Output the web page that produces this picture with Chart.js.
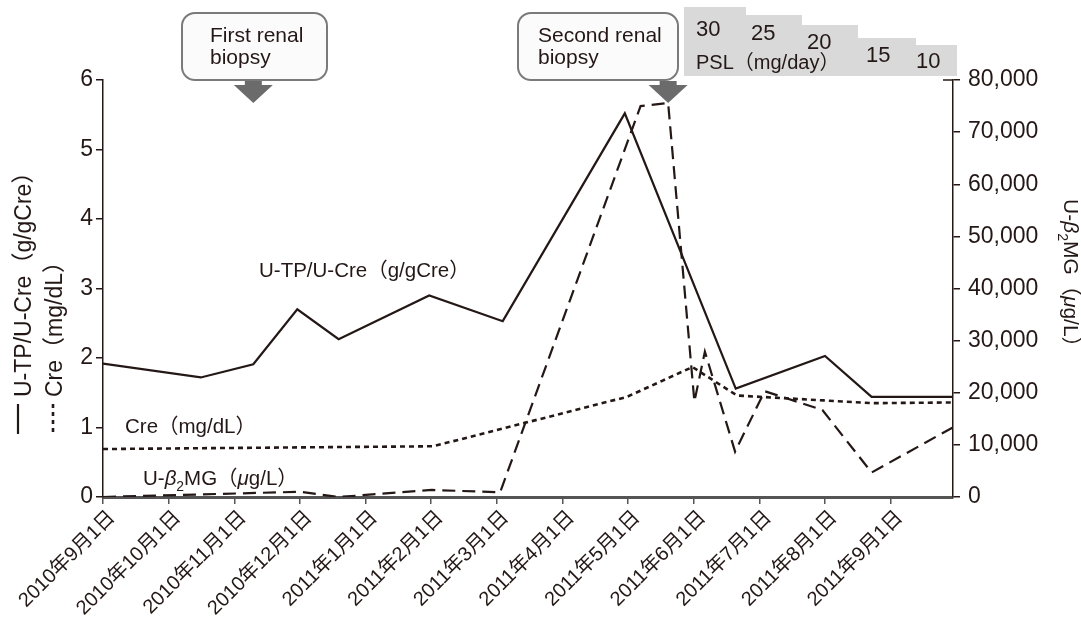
<!DOCTYPE html>
<html><head><meta charset="utf-8">
<script src="https://cdn.jsdelivr.net/npm/chart.js@4.4.1/dist/chart.umd.min.js"></script>
<style>html,body{margin:0;padding:0;background:#fff;} #wrap{width:1081px;height:625px;position:relative;}</style>
</head><body><div id="wrap"><canvas id="c"></canvas></div>
<script>
// x positions are months since 2010-09-01
const tickLabels = ['2010年9月1日','2010年10月1日','2010年11月1日','2010年12月1日','2011年1月1日','2011年2月1日','2011年3月1日','2011年4月1日','2011年5月1日','2011年6月1日','2011年7月1日','2011年8月1日','2011年9月1日'];
const utpMonths = [0, 1.49, 2.29, 2.96, 3.59, 4.97, 6.09, 7.95, 9.64, 11.0, 11.71, 12.94];
const utpValues = [1.92, 1.72, 1.91, 2.70, 2.27, 2.90, 2.53, 5.52, 1.56, 2.03, 1.44, 1.44];
const creMonths = [0, 5.03, 7.98, 8.98, 9.66, 10.98, 11.71, 12.94];
const creValues = [0.69, 0.73, 1.44, 1.87, 1.46, 1.39, 1.35, 1.36];
const b2mgMonths = [0, 3.0, 3.59, 5.01, 6.05, 8.19, 8.61, 9.01, 9.17, 9.63, 10.08, 10.96, 11.71, 12.94];
const b2mgValues = [0, 1000, 0, 1350, 900, 75000, 75600, 18300, 27900, 8700, 20300, 16700, 4700, 13300];
const pslDoses = [30, 25, 20, 15, 10];
const pslStartMonths = [8.85, 9.80, 10.65, 11.50, 12.38];
const pslEndMonth = 13.01;
const biopsyMonths = [2.29, 8.61];
const biopsyLabels = [['First renal', 'biopsy'], ['Second renal', 'biopsy']];

const FONT = '"Liberation Sans","Noto Sans CJK JP",sans-serif';
const INK = '#231815';
const zip = (xs, ys) => xs.map((x, i) => ({x: x, y: ys[i]}));
const fmt = v => String(v).replace(/\B(?=(\d{3})+(?!\d))/g, ',');

function rich(ctx, parts, x, y, size) {
  let cx = x;
  for (const p of parts) {
    const s = p.sub ? size * 0.68 : size;
    ctx.font = (p.it ? 'italic ' : '') + s + 'px ' + FONT;
    ctx.fillText(p.t, cx, y + (p.sub ? size * 0.28 : 0));
    cx += ctx.measureText(p.t).width;
  }
}
const b2Parts = [{t:'U-'},{t:'β',it:true},{t:'2',sub:true},{t:'MG（'},{t:'μ',it:true},{t:'g/L）'}];

const annot = {
  id: 'annot',
  afterDraw(chart) {
    const ctx = chart.ctx, xs = chart.scales.x, area = chart.chartArea;
    ctx.save();
    // PSL staircase
    const tops = [7, 15, 25, 38, 45], bottom = 76;
    ctx.fillStyle = '#d9d9d9';
    for (let i = 0; i < pslDoses.length; i++) {
      const x0 = Math.round(xs.getPixelForValue(pslStartMonths[i]));
      const x1 = Math.round(xs.getPixelForValue(i < pslDoses.length - 1 ? pslStartMonths[i + 1] : pslEndMonth));
      ctx.fillRect(x0, tops[i], x1 - x0, bottom - tops[i]);
    }
    ctx.fillStyle = INK;
    ctx.textBaseline = 'alphabetic';
    ctx.textAlign = 'left';
    ctx.font = '22px ' + FONT;
    const pslPos = [[696, 36], [751, 40], [807, 49], [866, 62], [916, 68]];
    pslDoses.forEach((d, i) => ctx.fillText(String(d), pslPos[i][0], pslPos[i][1]));
    ctx.font = '20px ' + FONT;
    ctx.fillText('PSL（mg/day）', 696, 69);

    // top inward tick on right axis
    ctx.strokeStyle = INK;
    ctx.lineWidth = 1.5;
    ctx.beginPath(); ctx.moveTo(area.right - 10, area.top); ctx.lineTo(area.right, area.top); ctx.stroke();

    // biopsy boxes + arrows
    const boxes = [[182, 13, 145, 67], [518, 13, 160, 67]];
    const textX = [210, 538];
    biopsyMonths.forEach((m, i) => {
      const [bx, by, bw, bh] = boxes[i];
      ctx.beginPath();
      ctx.roundRect(bx, by, bw, bh, 13);
      ctx.fillStyle = '#fbfbfb';
      ctx.fill();
      ctx.lineWidth = 2;
      ctx.strokeStyle = '#7a7a7a';
      ctx.stroke();
      ctx.fillStyle = INK;
      ctx.font = '21px ' + FONT;
      ctx.fillText(biopsyLabels[i][0], textX[i], 42);
      ctx.fillText(biopsyLabels[i][1], textX[i], 64);
      const ax = xs.getPixelForValue(m);
      ctx.fillStyle = '#6b6b6b';
      ctx.fillRect(ax - 8.5, 81, 17, 5);
      ctx.beginPath();
      ctx.moveTo(ax - 19.5, 85);
      ctx.lineTo(ax + 19.5, 85);
      ctx.lineTo(ax, 103);
      ctx.closePath();
      ctx.fill();
    });

    // inline series labels
    ctx.fillStyle = INK;
    ctx.font = '20.5px ' + FONT;
    ctx.fillText('U-TP/U-Cre（g/gCre）', 259, 277);
    ctx.fillText('Cre（mg/dL）', 125, 433);
    rich(ctx, b2Parts, 143, 485, 20.5);

    // left axis titles with legend marks
    ctx.save();
    ctx.translate(31, 397);
    ctx.rotate(-Math.PI / 2);
    ctx.font = '23px ' + FONT;
    ctx.fillText('U-TP/U-Cre（g/gCre）', 0, 0);
    ctx.restore();
    ctx.save();
    ctx.translate(62, 397);
    ctx.rotate(-Math.PI / 2);
    ctx.font = '23px ' + FONT;
    ctx.fillText('Cre（mg/dL）', 0, 0);
    ctx.restore();
    ctx.strokeStyle = INK;
    ctx.lineWidth = 2.2;
    ctx.beginPath(); ctx.moveTo(18, 404); ctx.lineTo(18, 434); ctx.stroke();
    ctx.lineWidth = 2.6;
    ctx.setLineDash([4, 4]);
    ctx.beginPath(); ctx.moveTo(53, 404); ctx.lineTo(53, 434); ctx.stroke();
    ctx.setLineDash([]);

    // right axis title
    ctx.save();
    ctx.translate(1064, 199);
    ctx.rotate(Math.PI / 2);
    rich(ctx, b2Parts, 0, 0, 21);
    ctx.restore();

    ctx.restore();
  }
};

new Chart(document.getElementById('c'), {
  type: 'line',
  data: {
    datasets: [
      {label: 'U-TP/U-Cre', data: zip(utpMonths, utpValues), yAxisID: 'y', borderColor: INK, borderWidth: 2.2, pointRadius: 0, tension: 0},
      {label: 'Cre', data: zip(creMonths, creValues), yAxisID: 'y', borderColor: INK, borderWidth: 2.6, borderDash: [5, 4], pointRadius: 0, tension: 0},
      {label: 'U-β2MG', data: zip(b2mgMonths, b2mgValues), yAxisID: 'y2', borderColor: INK, borderWidth: 2.2, borderDash: [13, 7], pointRadius: 0, tension: 0}
    ]
  },
  options: {
    responsive: true, maintainAspectRatio: false, animation: false,
    layout: {padding: {top: 80, left: 0, right: 0, bottom: 0}},
    plugins: {legend: {display: false}, tooltip: {enabled: false}},
    scales: {
      x: {
        type: 'linear', min: 0, max: 12.95,
        afterBuildTicks(s) { s.ticks = tickLabels.map((_, i) => ({value: i})); },
        afterFit(s) { s.height = 128; },
        grid: {drawOnChartArea: false, drawTicks: true, tickLength: 7, color: '#555', lineWidth: 1.5},
        border: {display: true, color: '#555', width: 3},
        ticks: {autoSkip: false, maxRotation: 45, minRotation: 45, font: {family: FONT, size: 20}, color: INK, labelOffset: 9, padding: 2,
          callback: v => tickLabels[v] !== undefined ? tickLabels[v] : ''}
      },
      y: {
        position: 'left', min: 0, max: 6,
        afterFit(s) { s.width = 103; },
        ticks: {stepSize: 1, font: {family: FONT, size: 23}, color: INK, padding: 3},
        grid: {drawOnChartArea: false, tickLength: 7, color: INK, lineWidth: 1.5},
        border: {color: INK, width: 1.5}
      },
      y2: {
        position: 'right', min: 0, max: 80000,
        afterFit(s) { s.width = 128; },
        ticks: {stepSize: 10000, font: {family: FONT, size: 23}, color: INK, padding: 8, callback: v => fmt(v)},
        grid: {drawOnChartArea: false, tickLength: 7, color: INK, lineWidth: 1.5},
        border: {color: INK, width: 1.5}
      }
    }
  },
  plugins: [annot]
});
</script>
</body></html>
